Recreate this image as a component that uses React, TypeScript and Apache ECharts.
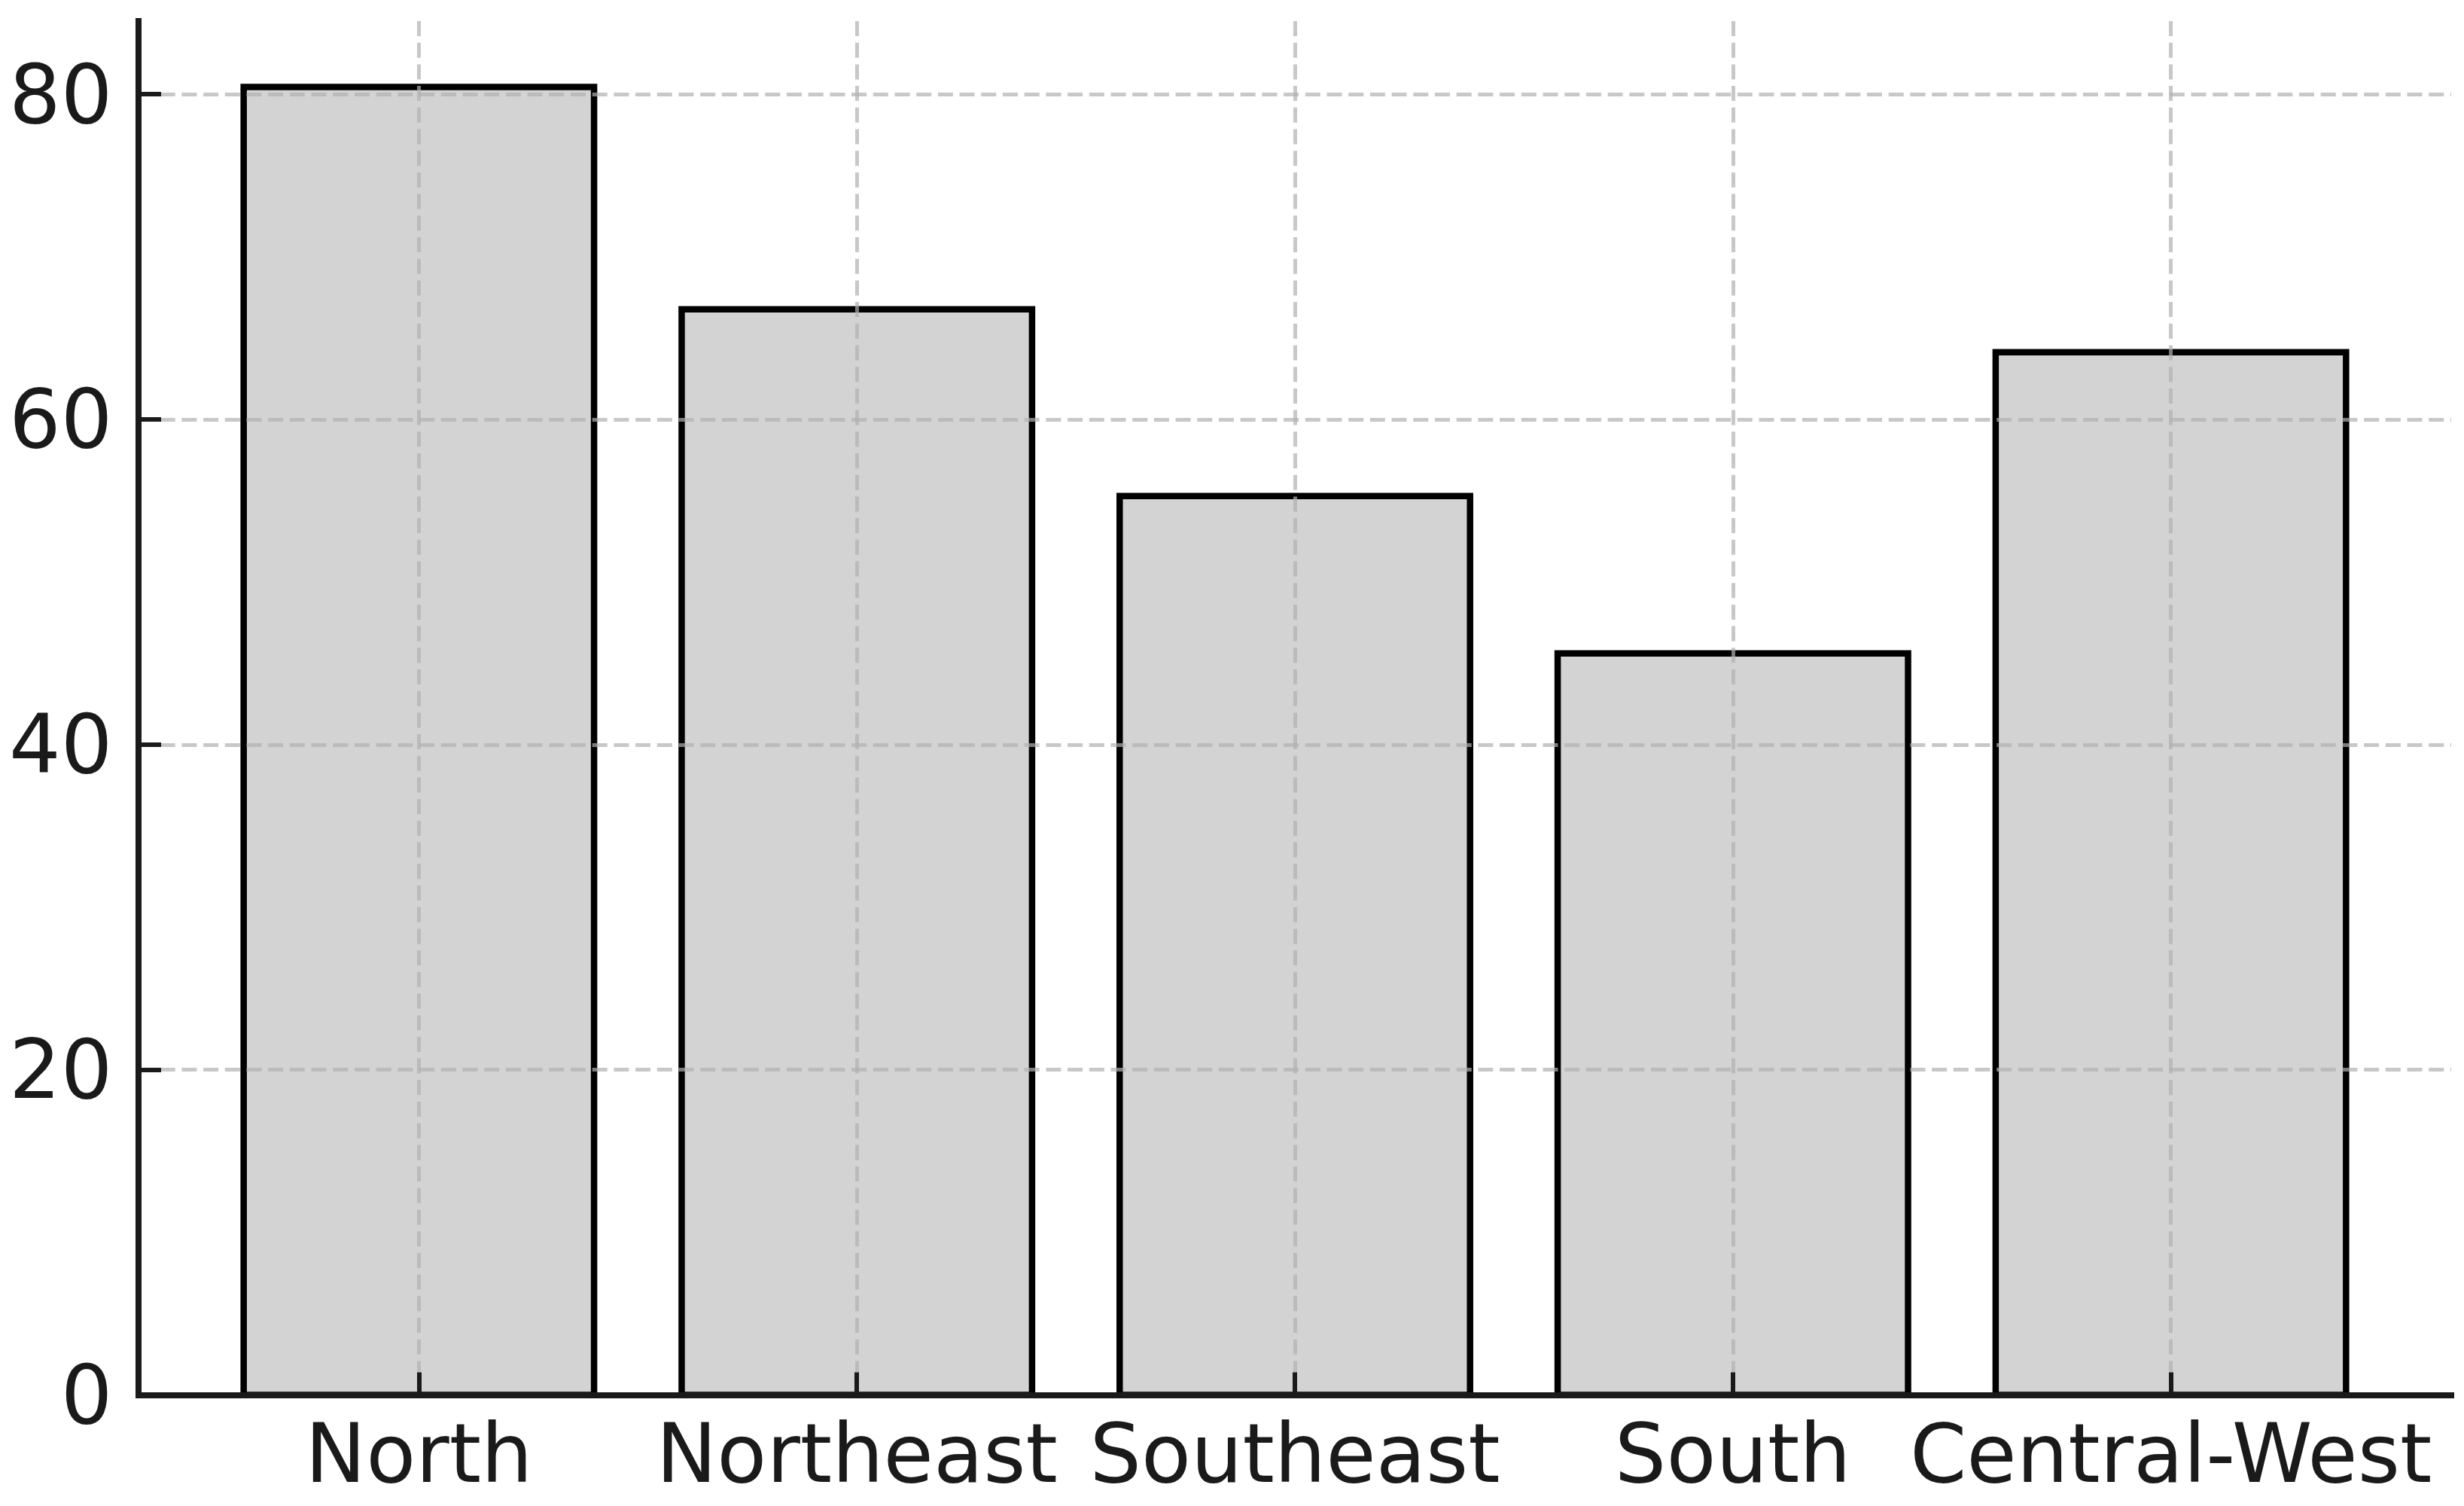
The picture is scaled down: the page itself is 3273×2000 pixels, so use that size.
import React, { useEffect, useRef } from "react";
import * as echarts from "echarts";

const categories = ["North", "Northeast", "Southeast", "South", "Central-West"];
const values = [80.45, 66.77, 55.29, 45.61, 64.13];
const yMin = 0;
const yTickMax = 80;
const yInterval = 20;
const yAxisTop = 84.5;
const barWidthUnits = 0.8;

const FONT = "DejaVu Sans";
const INK = "#1a1a1a";
const GRID_COLOR = "rgba(176,176,176,0.7)";

export default function App() {
  const ref = useRef<HTMLDivElement>(null);

  useEffect(() => {
    if (!ref.current) return;
    const chart = echarts.init(ref.current, null, { renderer: "svg" });
    const axisLineStyle = { color: INK, width: 8, cap: "square" as const };
    const dashed = { color: GRID_COLOR, width: 5, type: [20, 8.7] as number[] };
    chart.setOption({
      animation: false,
      backgroundColor: "#ffffff",
      grid: [
        { left: 184, right: 17, top: 28, bottom: 147.5, containLabel: false },
        { left: 184, right: 17, top: 125, bottom: 147.5, containLabel: false },
        { left: 556.4, right: 389.4, top: 28, bottom: 147.5, containLabel: false },
      ],
      xAxis: [
        {
          gridIndex: 0,
          type: "value",
          min: -0.64,
          max: 4.64,
          axisLine: { show: true, onZero: false, lineStyle: axisLineStyle },
          axisTick: { show: false },
          axisLabel: { show: false },
          splitLine: { show: false },
          z: 5,
        },
        { gridIndex: 1, type: "value", min: 0, max: 1, show: false },
        {
          gridIndex: 2,
          type: "value",
          min: 0,
          max: categories.length - 1,
          interval: 1,
          axisLine: { show: false, onZero: false },
          axisTick: {
            show: true,
            inside: true,
            length: 30,
            lineStyle: { color: INK, width: 6 },
          },
          axisLabel: {
            show: true,
            margin: 24,
            fontSize: 108,
            fontFamily: FONT,
            color: INK,
            formatter: (v: number) => categories[Math.round(v)] ?? "",
          },
          splitLine: { show: true, lineStyle: dashed },
          z: 3,
        },
      ],
      yAxis: [
        {
          gridIndex: 0,
          type: "value",
          min: yMin,
          max: yAxisTop,
          axisLine: { show: true, onZero: false, lineStyle: axisLineStyle },
          axisTick: { show: false },
          axisLabel: { show: false },
          splitLine: { show: false },
          z: 5,
        },
        {
          gridIndex: 1,
          type: "value",
          min: yMin,
          max: yTickMax,
          interval: yInterval,
          axisLine: { show: false, onZero: false },
          axisTick: {
            show: true,
            inside: true,
            length: 30,
            lineStyle: { color: INK, width: 6 },
          },
          axisLabel: {
            show: true,
            margin: 34.5,
            fontSize: 108,
            fontFamily: FONT,
            color: INK,
          },
          splitLine: { show: true, lineStyle: dashed },
          z: 3,
        },
        { gridIndex: 2, type: "value", min: yMin, max: yAxisTop, show: false },
      ],
      series: [
        {
          type: "custom",
          xAxisIndex: 2,
          yAxisIndex: 2,
          data: values.map((v, i) => [i, v]),
          encode: { x: 0, y: 1 },
          z: 2,
          renderItem: (params: any, api: any) => {
            const xv = api.value(0);
            const yv = api.value(1);
            const top = api.coord([xv, yv]);
            const base = api.coord([xv, 0]);
            const w = api.size([barWidthUnits, 0])[0];
            return {
              type: "rect",
              shape: { x: top[0] - w / 2, y: top[1], width: w, height: base[1] - top[1] },
              style: { fill: "#d3d3d3", stroke: "#000000", lineWidth: 8.5 },
            };
          },
        },
      ],
    });
    return () => chart.dispose();
  }, []);

  return (
    <div
      ref={ref}
      style={{ position: "absolute", left: 0, top: 0, width: 3273, height: 2000 }}
    />
  );
}
